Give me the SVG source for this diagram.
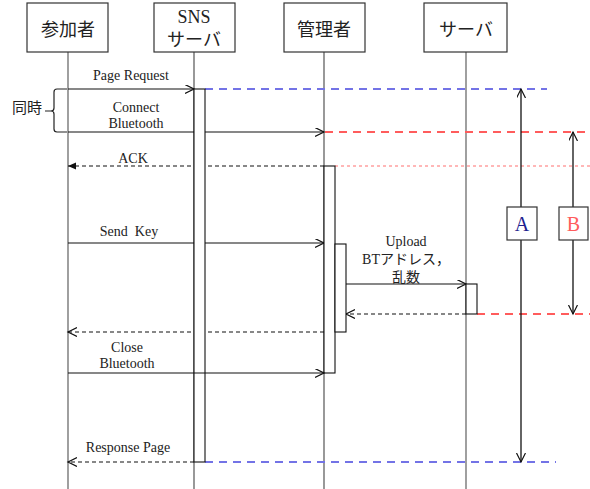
<svg xmlns="http://www.w3.org/2000/svg" width="590" height="489" viewBox="0 0 590 489">
  <style>
    .box { fill: #fff; stroke: #333; stroke-width: 1.2; }
    .act { fill: #fff; stroke: #111; stroke-width: 1.1; }
    .life { stroke: #444; stroke-width: 1.1; fill: none; }
    .head { font-family: "Liberation Serif", "Noto Sans CJK JP", serif; font-size: 18px; fill: #222; text-anchor: middle; }
    .lbl { font-family: "Liberation Serif", "Noto Sans CJK JP", serif; font-size: 14px; fill: #222; text-anchor: middle; white-space: pre; }
    .msg { stroke: #111; stroke-width: 1.1; fill: none; }
    .ret { stroke: #111; stroke-width: 1.1; fill: none; stroke-dasharray: 4 3; }
    .blue { stroke: #7373e6; stroke-width: 2; stroke-dasharray: 8 6; fill: none; }
    .red { stroke: #ff5c5c; stroke-width: 2; stroke-dasharray: 8 6; fill: none; }
    .pink { stroke: #ffa0a0; stroke-width: 1.6; stroke-dasharray: 3 3; fill: none; }
    .span { stroke: #111; stroke-width: 1.3; fill: none; }
  </style>
  <defs>
    <marker id="open" markerUnits="userSpaceOnUse" markerWidth="12" markerHeight="12" refX="9" refY="4.5" orient="auto-start-reverse">
      <path d="M0,0 L9,4.5 L0,9" fill="none" stroke="#111" stroke-width="1.2"/>
    </marker>
    <marker id="solid" markerUnits="userSpaceOnUse" markerWidth="10" markerHeight="10" refX="8" refY="3.5" orient="auto">
      <path d="M0,0 L8,3.5 L0,7 z" fill="#111"/>
    </marker>
  </defs>

  <!-- participants and lifelines -->
  <g id="p-sankasha">
    <line class="life" x1="68" y1="52" x2="68" y2="489" stroke="#888" style="stroke:#888;stroke-width:1.6"/>
    <rect class="box" x="27" y="3" width="81" height="49"/>
    <text class="head" x="68" y="36">参加者</text>
  </g>
  <g id="p-sns">
    <line class="life" x1="194" y1="52" x2="194" y2="489"/>
    <rect class="box" x="154" y="3" width="81" height="49"/>
    <text class="head" x="194" y="23">SNS</text>
    <text class="head" x="194" y="46">サーバ</text>
  </g>
  <g id="p-kanrisha">
    <line class="life" x1="324" y1="52" x2="324" y2="489"/>
    <rect class="box" x="284" y="3" width="81" height="49"/>
    <text class="head" x="324" y="36">管理者</text>
  </g>
  <g id="p-server">
    <line class="life" x1="466" y1="52" x2="466" y2="489" style="stroke:#777;stroke-width:1.4"/>
    <rect class="box" x="424" y="3" width="83" height="49"/>
    <text class="head" x="466" y="36">サーバ</text>
  </g>

  <!-- simultaneous brace -->
  <g id="brace">
    <path d="M67,89 H57 Q54,89 54,92 V108 Q54,111 51,111 H45 M51,111 Q54,111 54,114 V129 Q54,132 57,132 H67" fill="none" stroke="#222" stroke-width="1.2"/>
    <text x="12" y="113" style="font-family:'Liberation Serif','Noto Sans CJK JP',serif;font-size:15px;fill:#222">同時</text>
  </g>

  <!-- messages -->
  <g id="connectors">
    <line class="msg" x1="68" y1="89" x2="194" y2="89" marker-end="url(#open)"/>
    <line class="msg" x1="68" y1="132" x2="324" y2="132" marker-end="url(#open)"/>
    <line class="ret" x1="324" y1="166" x2="68" y2="166" marker-end="url(#solid)"/>
    <line class="msg" x1="68" y1="243" x2="324" y2="243" marker-end="url(#open)"/>
    <line class="msg" x1="346" y1="284" x2="466" y2="284" marker-end="url(#open)"/>
    <line class="ret" x1="466" y1="314" x2="346" y2="314" marker-end="url(#open)"/>
    <line class="ret" x1="324" y1="332" x2="68" y2="332" marker-end="url(#open)"/>
    <line class="ret" x1="194" y1="462" x2="68" y2="462" marker-end="url(#open)"/>

    <!-- timing guides -->
    <line class="blue" x1="205" y1="89" x2="547" y2="89"/>
    <line class="red" x1="325" y1="132" x2="590" y2="132"/>
    <line class="pink" x1="335" y1="166" x2="590" y2="166"/>
    <line class="red" x1="477" y1="314" x2="590" y2="314"/>
    <line class="blue" x1="205" y1="462" x2="556" y2="462"/>

    <!-- spans A and B -->
    <line class="span" x1="521" y1="89" x2="521" y2="462" marker-start="url(#open)" marker-end="url(#open)"/>
    <line class="span" x1="573" y1="132" x2="573" y2="314" marker-start="url(#open)" marker-end="url(#open)"/>
  </g>

  <!-- activations -->
  <g id="activations">
    <rect class="act" x="194" y="89" width="11" height="373"/>
    <rect class="act" x="324" y="166" width="11" height="207"/>
    <rect class="act" x="335" y="244" width="11" height="88"/>
    <rect class="act" x="466" y="284" width="11" height="30"/>
  </g>
  <g id="close-bt">
    <line class="msg" x1="68" y1="373" x2="324" y2="373" marker-end="url(#open)"/>
  </g>

  <!-- labels -->
  <g id="labels">
    <text class="lbl" x="131" y="80">Page Request</text>
    <text class="lbl" x="136" y="112">Connect</text>
    <text class="lbl" x="136" y="128">Bluetooth</text>
    <text class="lbl" x="133" y="163">ACK</text>
    <text class="lbl" x="129" y="236">Send  Key</text>
    <text class="lbl" x="406" y="246">Upload</text>
    <text class="lbl" x="406" y="264">BTアドレス，</text>
    <text class="lbl" x="406" y="282">乱数</text>
    <text class="lbl" x="127" y="352">Close</text>
    <text class="lbl" x="127" y="368">Bluetooth</text>
    <text class="lbl" x="128" y="452">Response Page</text>
  </g>

  <g id="box-a">
    <rect class="box" x="507" y="207" width="30" height="33"/>
    <text x="522" y="231" style="font-family:'Liberation Serif',serif;font-size:20px;fill:#1f1f8f;text-anchor:middle">A</text>
  </g>
  <g id="box-b">
    <rect class="box" x="559" y="207" width="29" height="33"/>
    <text x="573.5" y="231" style="font-family:'Liberation Serif',serif;font-size:20px;fill:#ff5c5c;text-anchor:middle">B</text>
  </g>
</svg>
